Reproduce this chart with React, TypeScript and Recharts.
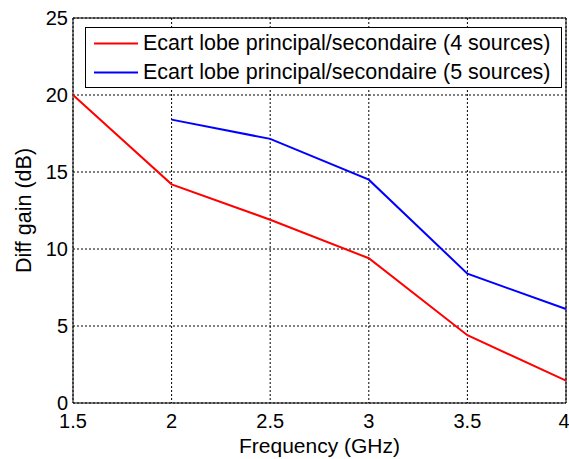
import {
  CartesianGrid,
  Label,
  Legend,
  Line,
  LineChart,
  ReferenceArea,
  XAxis,
  YAxis,
} from 'recharts';

// valeurs
const frequencies = [1.5, 2, 2.5, 3, 3.5, 4];
const ecart4 = [20, 14.2, 11.9, 9.4, 4.4, 1.45];
const ecart5 = [null, 18.4, 17.15, 14.5, 8.4, 6.1];

const xTicks = [1.5, 2, 2.5, 3, 3.5, 4];
const yTicks = [0, 5, 10, 15, 20, 25];

const name4 = 'Ecart lobe principal/secondaire (4 sources)';
const name5 = 'Ecart lobe principal/secondaire (5 sources)';

const data = frequencies.map((f, i) => ({
  freq: f,
  s4: ecart4[i],
  s5: ecart5[i],
}));

const FONT = '"Liberation Sans", Arial, Helvetica, sans-serif';

function LegendBox({ payload }: any) {
  return (
    <div
      style={{
        boxSizing: 'border-box',
        width: 477,
        height: 61,
        border: '1px solid #000',
        background: '#fff',
        paddingTop: 1,
        fontFamily: FONT,
        fontSize: 21.5,
        color: '#000',
      }}
    >
      {(payload || []).map((p: any) => (
        <div
          key={p.value}
          style={{ display: 'flex', alignItems: 'center', height: 29 }}
        >
          <svg width={57} height={29} style={{ flex: 'none' }}>
            <line x1={8} x2={52} y1={14.5} y2={14.5} stroke={p.color} strokeWidth={2} />
          </svg>
          <span style={{ whiteSpace: 'nowrap', lineHeight: '29px' }}>{p.value}</span>
        </div>
      ))}
    </div>
  );
}

export default function App() {
  return (
    <div style={{ position: 'absolute', left: 0, top: 0, background: '#fff' }}>
      <LineChart
        width={569}
        height={459}
        data={data}
        margin={{ top: 18, right: 3, left: 0, bottom: 0 }}
        style={{ fontFamily: FONT }}
      >
        <CartesianGrid stroke='#000' strokeDasharray='2 2' strokeWidth={1} />
        <XAxis
          dataKey='freq'
          type='number'
          domain={[1.5, 4]}
          ticks={xTicks}
          height={56}
          axisLine={false}
          tickLine={false}
          tickSize={0}
          tickMargin={11}
          tick={{ fill: '#000', fontSize: 20 }}
        >
          <Label
            value='Frequency (GHz)'
            position='insideBottom'
            offset={6}
            style={{ fill: '#000', fontSize: 21 }}
          />
        </XAxis>
        <YAxis
          type='number'
          domain={[0, 25]}
          ticks={yTicks}
          width={73}
          axisLine={false}
          tickLine={false}
          tickSize={0}
          tickMargin={5}
          tick={{ fill: '#000', fontSize: 20 }}
        >
          <Label
            content={({ viewBox }: any) => {
              const cx = viewBox.x + 30.5;
              const cy = viewBox.y + viewBox.height / 2;
              return (
                <text
                  x={cx}
                  y={cy}
                  transform={`rotate(-90, ${cx}, ${cy})`}
                  textAnchor='middle'
                  fill='#000'
                  fontSize={21.5}
                >
                  Diff gain (dB)
                </text>
              );
            }}
          />
        </YAxis>
        <ReferenceArea
          x1={1.5}
          x2={4}
          y1={0}
          y2={25}
          fill='none'
          stroke='#000'
          strokeWidth={1}
        />
        <Legend
          layout='horizontal'
          align='center'
          verticalAlign='middle'
          wrapperStyle={{ top: 27, left: 85, width: 477, height: 61 }}
          content={<LegendBox />}
        />
        <Line
          type='linear'
          dataKey='s4'
          name={name4}
          stroke='#ff0000'
          strokeWidth={2}
          dot={false}
          isAnimationActive={false}
        />
        <Line
          type='linear'
          dataKey='s5'
          name={name5}
          stroke='#0000ff'
          strokeWidth={2}
          dot={false}
          isAnimationActive={false}
        />
      </LineChart>
    </div>
  );
}
